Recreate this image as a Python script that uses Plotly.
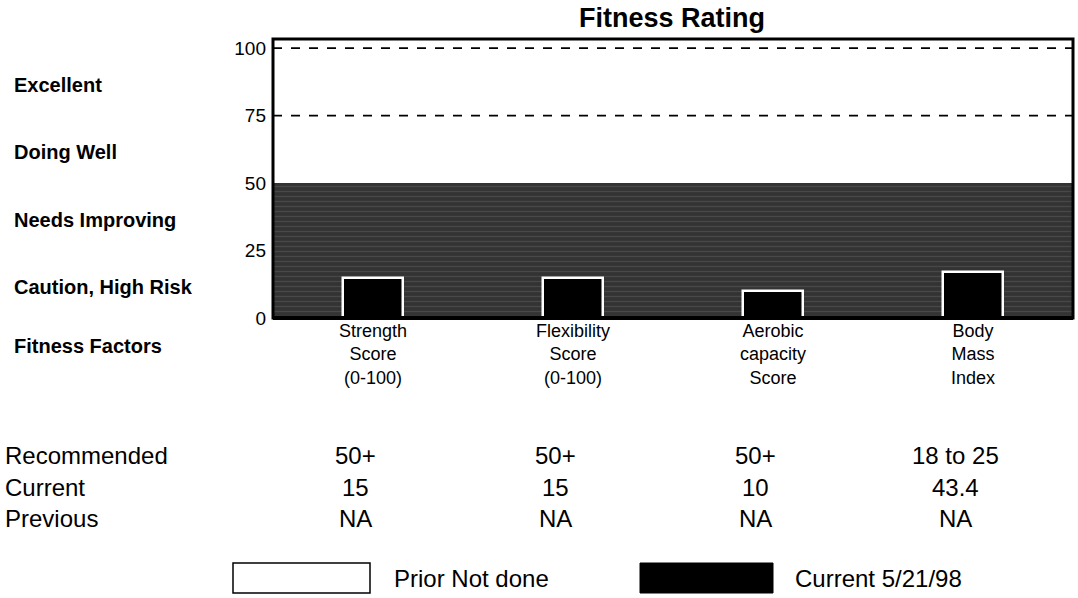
import plotly.graph_objects as go

# Fitness factors shown along the x axis
categories = [
    "Strength<br>Score<br>(0-100)",
    "Flexibility<br>Score<br>(0-100)",
    "Aerobic<br>capacity<br>Score",
    "Body<br>Mass<br>Index",
]

# Rating scale bands (left-hand labels, top to bottom)
rating_labels = ["Excellent", "Doing Well", "Needs Improving", "Caution, High Risk", "Fitness Factors"]
rating_ticks = [0, 25, 50, 75, 100]
dashed_levels = [75, 100]
improve_threshold = 50

# Current ratings on the 0-100 scale (BMI plotted at its rating position)
current_rating = [15, 15, 10, 17]
# Prior test was not done
prior_rating = [None, None, None, None]

# Summary table beneath the chart
row_names = ["Recommended", "Current", "Previous"]
recommended = ["50+", "50+", "50+", "18 to 25"]
current_values = ["15", "15", "10", "43.4"]
previous_values = ["NA", "NA", "NA", "NA"]

FONT = "Liberation Sans, Arial, sans-serif"
W, H = 1078, 598
L, R, T, B = 273, 5, 39, 280
plot_h = H - T - B


def py(pix):
    """Pixel row -> paper y."""
    return (H - B - pix) / plot_h


def px(pix):
    """Pixel column -> paper x."""
    return (pix - L) / (W - L - R)


xs = list(range(len(categories)))

fig = go.Figure()

# "Needs improving" band from 0 to 50
fig.add_trace(go.Bar(
    x=[(xs[0] + xs[-1]) / 2], y=[improve_threshold], width=[len(xs)],
    marker=dict(color="#3a3a3a", line=dict(width=0),
                pattern=dict(shape="-", fgcolor="#5e5e5e", bgcolor="#333333",
                             size=5, solidity=0.25)),
    hoverinfo="skip", showlegend=False,
))

fig.add_trace(go.Bar(
    x=xs, y=prior_rating, width=0.3, name="Prior Not done",
    marker=dict(color="white", line=dict(color="black", width=1.5)),
    showlegend=False,
))

fig.add_trace(go.Bar(
    x=xs, y=current_rating, width=0.3, name="Current 5/21/98",
    marker=dict(color="black", line=dict(color="white", width=2.5)),
    showlegend=False,
))

# dashed reference lines
for lvl in dashed_levels:
    fig.add_shape(type="line", xref="paper", x0=0, x1=1, yref="y", y0=lvl, y1=lvl,
                  line=dict(color="black", width=1.6, dash="dash"))

# frame around the plot
fig.add_shape(type="rect", xref="paper", yref="paper", x0=0, x1=1, y0=0, y1=1,
              line=dict(color="black", width=3))
fig.add_shape(type="line", xref="paper", yref="paper", x0=0, x1=1, y0=0, y1=0,
              line=dict(color="black", width=4))

annotations = []

# rating labels on the left
label_rows = [85, 152, 220, 287, 346]
for text, row in zip(rating_labels, label_rows):
    annotations.append(dict(text=f"<b>{text}</b>", xref="paper", yref="paper",
                            x=px(12), y=py(row), xanchor="left", yanchor="middle",
                            showarrow=False, font=dict(size=20, color="black", family=FONT)))

# summary table
table_rows = [recommended, current_values, previous_values]
row_pix = [455, 487, 518]
for name, values, row in zip(row_names, table_rows, row_pix):
    annotations.append(dict(text=name, xref="paper", yref="paper", x=px(3), y=py(row),
                            xanchor="left", yanchor="middle", showarrow=False,
                            font=dict(size=24, color="black", family=FONT)))
    for xi, v in zip(xs, values):
        annotations.append(dict(text=v, xref="x", yref="paper", x=xi - 0.09, y=py(row),
                                xanchor="center", yanchor="middle", showarrow=False,
                                font=dict(size=24, color="black", family=FONT)))

# legend swatches
fig.add_shape(type="rect", xref="paper", yref="paper", x0=px(233), x1=px(370),
              y0=py(593), y1=py(563), fillcolor="white", line=dict(color="black", width=1.5))
fig.add_shape(type="rect", xref="paper", yref="paper", x0=px(640), x1=px(773),
              y0=py(593), y1=py(563), fillcolor="black", line=dict(color="black", width=1))
annotations.append(dict(text="Prior Not done", xref="paper", yref="paper", x=px(392), y=py(578),
                        xanchor="left", yanchor="middle", showarrow=False,
                        font=dict(size=24, color="black", family=FONT)))
annotations.append(dict(text="Current 5/21/98", xref="paper", yref="paper", x=px(793), y=py(578),
                        xanchor="left", yanchor="middle", showarrow=False,
                        font=dict(size=24, color="black", family=FONT)))

fig.update_layout(
    width=W, height=H,
    margin=dict(l=L, r=R, t=T, b=B),
    paper_bgcolor="white", plot_bgcolor="white",
    barmode="overlay", bargap=0,
    title=dict(text="<b>Fitness Rating</b>", x=672 / W, xanchor="center",
               y=1 - 18 / H, yanchor="middle", font=dict(size=27, color="black", family=FONT)),
    xaxis=dict(range=[-0.5, len(xs) - 0.5], tickvals=xs, ticktext=categories,
               showgrid=False, zeroline=False, showline=False, ticks="",
               tickfont=dict(size=18, color="black", family=FONT)),
    yaxis=dict(range=[0, 103.4], tickvals=rating_ticks, showgrid=False, zeroline=False,
               showline=False, ticks="", ticklabelstandoff=6,
               tickfont=dict(size=19, color="black", family=FONT)),
    annotations=annotations,
    showlegend=False,
)

fig.write_html("out.html")
